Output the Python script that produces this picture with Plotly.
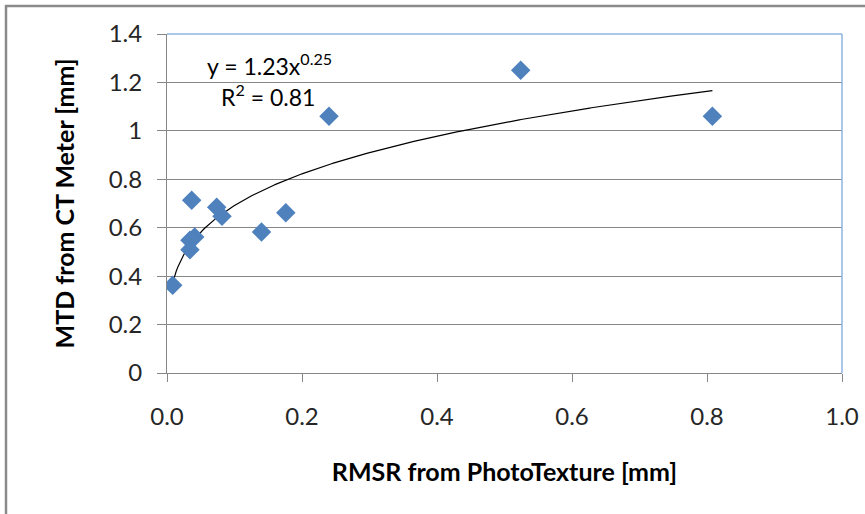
import numpy as np
import plotly.graph_objects as go

# Data
rmsr = [0.0084, 0.034, 0.0366, 0.034, 0.041, 0.0736, 0.0815, 0.140, 0.176, 0.240, 0.524, 0.808]
mtd = [0.362, 0.509, 0.713, 0.548, 0.562, 0.685, 0.647, 0.582, 0.662, 1.06, 1.25, 1.06]

# Power trendline coefficients shown on the chart
coef_a = 1.23
coef_b = 0.25
r_squared = 0.81

x_ticks = [0.0, 0.2, 0.4, 0.6, 0.8, 1.0]
y_ticks = [0, 0.2, 0.4, 0.6, 0.8, 1.0, 1.2, 1.4]
y_ticktext = ["0", "0.2", "0.4", "0.6", "0.8", "1", "1.2", "1.4"]

xs = np.linspace(min(rmsr), max(rmsr), 300)
ys = coef_a * xs ** coef_b

FONT = "Lato, Open Sans, sans-serif"
GRID = "#878787"
BLUE_BORDER = "#8EB4E3"
TICK_COLOR = "#262626"

# body margin removed via post_script; plot area on screen: x 167..842, y 34..373
OFF = 0
L, T, PW, PH = 167, 34, 675, 339
W, H = 865, 514

fig = go.Figure()
fig.add_trace(go.Scatter(x=xs, y=ys, mode="lines",
                         line=dict(color="#000000", width=1.2),
                         showlegend=False, hoverinfo="skip"))
fig.add_trace(go.Scatter(x=rmsr, y=mtd, mode="markers",
                         marker=dict(symbol="diamond", size=15, color="#4F81BD",
                                     line=dict(width=0)),
                         showlegend=False))


def px_to_paper_x(sx):
    return (sx - OFF - L) / PW


def px_to_paper_y(sy):
    return (T + PH + OFF - sy) / PH


fig.update_layout(
    width=W, height=H,
    margin=dict(l=L, r=W - L - PW, t=T, b=H - T - PH, autoexpand=False),
    paper_bgcolor="white", plot_bgcolor="white",
    font=dict(family=FONT, size=24, color="#000000"),
    xaxis=dict(range=[0, 1.0], tickvals=x_ticks, ticktext=[f"{v:.1f}" for v in x_ticks],
               showgrid=False, zeroline=False, showline=True, linecolor=GRID, linewidth=1,
               ticks="outside", ticklen=8, tickcolor=GRID, ticklabelstandoff=14,
               tickfont=dict(size=24, color=TICK_COLOR),
               title=dict(text="<b>RMSR from PhotoTexture [mm]</b>", font=dict(size=25), standoff=34)),
    yaxis=dict(range=[0, 1.4], tickvals=y_ticks, ticktext=y_ticktext,
               showgrid=True, gridcolor=GRID, gridwidth=1, zeroline=False,
               showline=True, linecolor=GRID, linewidth=1,
               ticks="outside", ticklen=9, tickcolor=GRID, ticklabelstandoff=10,
               tickfont=dict(size=24, color=TICK_COLOR),
               title=dict(text="<b>MTD from CT Meter [mm]</b>", font=dict(size=25), standoff=26)),
    shapes=[
        dict(type="line", xref="paper", yref="paper", x0=0, x1=1, y0=1, y1=1,
             line=dict(color=BLUE_BORDER, width=1.5), layer="above"),
        dict(type="line", xref="paper", yref="paper", x0=1, x1=1, y0=0, y1=1,
             line=dict(color=BLUE_BORDER, width=1.5), layer="above"),
        dict(type="rect", xref="paper", yref="paper",
             x0=px_to_paper_x(6), x1=px_to_paper_x(900),
             y0=px_to_paper_y(560), y1=px_to_paper_y(6),
             line=dict(color="#8a8a8a", width=2.5), layer="below"),
    ],
    annotations=[
        dict(x=px_to_paper_x(269), y=px_to_paper_y(64), xref="paper", yref="paper",
             xanchor="center", yanchor="middle", showarrow=False,
             text=f"y = {coef_a}x<sup>{coef_b}</sup>", font=dict(size=23, color="#000000")),
        dict(x=px_to_paper_x(268), y=px_to_paper_y(95), xref="paper", yref="paper",
             xanchor="center", yanchor="middle", showarrow=False,
             text=f"R<sup>2</sup> = {r_squared}", font=dict(size=23, color="#000000")),
    ],
)

fig.write_html("out.html", config={"displayModeBar": False},
               post_script="document.body.style.margin='0';document.body.style.padding='0';")
